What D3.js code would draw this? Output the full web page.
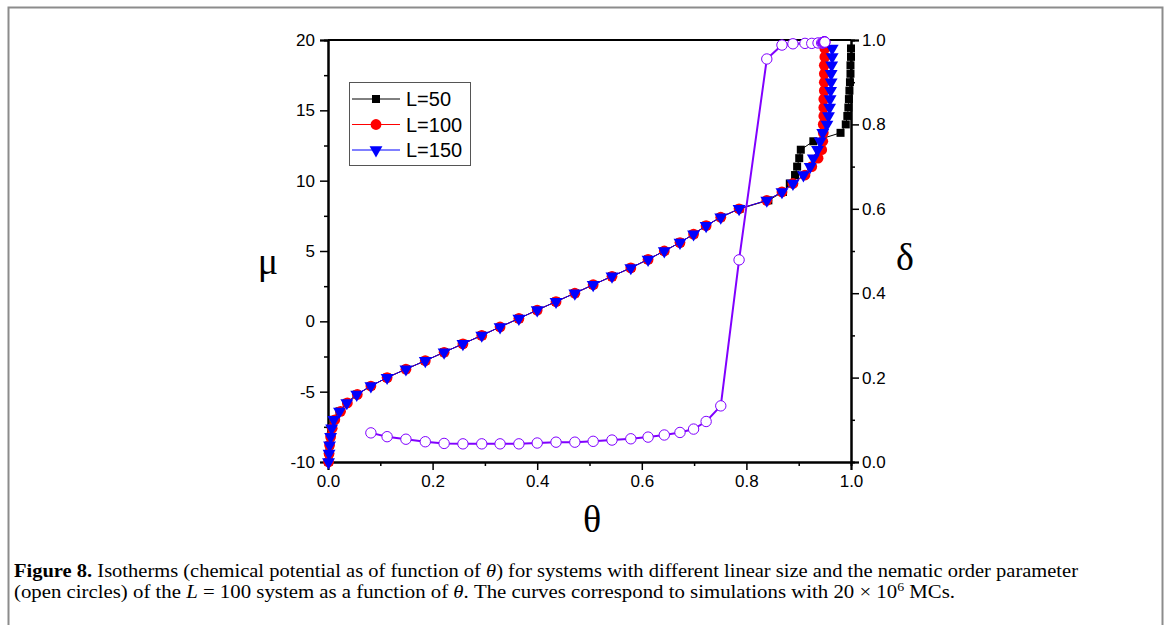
<!DOCTYPE html>
<html>
<head>
<meta charset="utf-8">
<script src="https://cdn.jsdelivr.net/npm/d3@7"></script>
<style>
  body { margin: 0; background: #fff; }
  svg { display: block; }
</style>
</head>
<body>
<svg id="chart" width="1171" height="625"></svg>
<script>
// chemical potential grid (shared by all series)
const muValues = [-10, -9.4, -8.8, -8.2, -7.6, -7.0, -6.4, -5.8, -5.2, -4.6,
  -4.0, -3.4, -2.8, -2.2, -1.6, -1.0, -0.4, 0.2, 0.8, 1.4,
  2.0, 2.6, 3.2, 3.8, 4.4, 5.0, 5.6, 6.2, 6.8, 7.4,
  8.0, 8.6, 9.2, 9.8, 10.4, 11.0, 11.6, 12.2, 12.8, 13.4,
  14.0, 14.6, 15.2, 15.8, 16.4, 17.0, 17.6, 18.2, 18.8, 19.4];

// coverage theta for each system size
const thetaL50 = [0.001, 0.002, 0.003, 0.005, 0.007, 0.011, 0.022, 0.036, 0.055, 0.082,
  0.113, 0.149, 0.186, 0.222, 0.258, 0.294, 0.329, 0.365, 0.400, 0.436,
  0.472, 0.507, 0.543, 0.579, 0.612, 0.643, 0.673, 0.699, 0.723, 0.751,
  0.787, 0.842, 0.870, 0.883, 0.893, 0.897, 0.901, 0.904, 0.928, 0.980,
  0.990, 0.993, 0.995, 0.996, 0.997, 0.998, 0.999, 0.999, 1.000, 1.000];

const thetaL100 = [0.001, 0.002, 0.003, 0.005, 0.008, 0.013, 0.024, 0.037, 0.056, 0.082,
  0.113, 0.149, 0.186, 0.222, 0.258, 0.294, 0.329, 0.365, 0.400, 0.436,
  0.472, 0.507, 0.543, 0.579, 0.612, 0.643, 0.673, 0.699, 0.723, 0.751,
  0.786, 0.839, 0.868, 0.889, 0.912, 0.925, 0.937, 0.944, 0.946, 0.947,
  0.947, 0.948, 0.948, 0.948, 0.949, 0.949, 0.949, 0.949, 0.950, 0.950];

const thetaL150 = [0.001, 0.002, 0.003, 0.005, 0.007, 0.011, 0.022, 0.036, 0.055, 0.082,
  0.113, 0.149, 0.186, 0.222, 0.258, 0.294, 0.329, 0.365, 0.400, 0.436,
  0.472, 0.507, 0.543, 0.579, 0.612, 0.643, 0.673, 0.699, 0.723, 0.751,
  0.786, 0.839, 0.868, 0.889, 0.909, 0.922, 0.928, 0.936, 0.941, 0.946,
  0.954, 0.957, 0.959, 0.960, 0.961, 0.962, 0.962, 0.963, 0.964, 0.964];

// nematic order parameter of L=100 (null where not measured)
const deltaL100 = [null, null, null, null, null, null, null, null, null, 0.069,
  0.060, 0.054, 0.048, 0.044, 0.043, 0.043, 0.043, 0.043, 0.045, 0.047,
  0.047, 0.049, 0.052, 0.055, 0.059, 0.064, 0.070, 0.078, 0.096, 0.133,
  0.479, 0.955, 0.988, 0.991, 0.992, 0.992, 0.993, 0.993, 0.993, 0.994,
  0.994, 0.994, 0.994, 0.995, 0.995, 0.995, 0.995, 0.995, 0.995, 0.995];

const seriesNames = ["L=50", "L=100", "L=150"];
const seriesColors = ["#000000", "#ff0000", "#0000ff"];
const seriesShapes = ["square", "circle", "triangle"];
const deltaColor = "#8000ff";

const muTicks = [-10, -5, 0, 5, 10, 15, 20];
const thetaTicks = [0, 0.2, 0.4, 0.6, 0.8, 1.0];
const deltaTicks = [0, 0.2, 0.4, 0.6, 0.8, 1.0];

const svg = d3.select("#chart");
const pLeft = 328, pRight = 851, pTop = 40, pBottom = 462;

const x = d3.scaleLinear().domain([0, 1]).range([pLeft, pRight]);
const y = d3.scaleLinear().domain([-10, 20]).range([pBottom, pTop]);
const yR = d3.scaleLinear().domain([0, 1]).range([pBottom, pTop]);

// figure border
svg.append("rect")
  .attr("x", 8.5).attr("y", 7.5)
  .attr("width", 1154).attr("height", 660)
  .attr("fill", "none").attr("stroke", "#8c8c8c").attr("stroke-width", 2);

const font = "'Liberation Sans', Arial, sans-serif";
const serif = "'Liberation Serif', 'Times New Roman', serif";

function styleAxis(g) {
  g.select(".domain").attr("stroke", "#000").attr("stroke-width", 2);
  g.selectAll(".tick line").attr("stroke", "#000").attr("stroke-width", 1.5);
  g.selectAll(".tick text").attr("fill", "#000")
    .style("font-family", font).style("font-size", "17px");
}

// left axis
svg.append("g").attr("transform", `translate(${pLeft},0)`)
  .call(d3.axisLeft(y).tickValues(d3.range(-7.5, 20, 5)).tickSize(4).tickFormat(""))
  .call(styleAxis);
svg.append("g").attr("transform", `translate(${pLeft},0)`)
  .call(d3.axisLeft(y).tickValues(muTicks).tickSize(8).tickPadding(5).tickFormat(d => String(d)))
  .call(styleAxis);

// bottom axis
svg.append("g").attr("transform", `translate(0,${pBottom})`)
  .call(d3.axisBottom(x).tickValues([0.1, 0.3, 0.5, 0.7, 0.9]).tickSize(4).tickFormat(""))
  .call(styleAxis);
svg.append("g").attr("transform", `translate(0,${pBottom})`)
  .call(d3.axisBottom(x).tickValues(thetaTicks).tickSize(8).tickPadding(5).tickFormat(d => d.toFixed(1)))
  .call(styleAxis);

// right axis
svg.append("g").attr("transform", `translate(${pRight},0)`)
  .call(d3.axisRight(yR).tickValues([0.1, 0.3, 0.5, 0.7, 0.9]).tickSize(4).tickFormat(""))
  .call(styleAxis);
svg.append("g").attr("transform", `translate(${pRight},0)`)
  .call(d3.axisRight(yR).tickValues(deltaTicks).tickSize(8).tickPadding(3).tickFormat(d => d.toFixed(1)))
  .call(styleAxis);

// top frame line
svg.append("line")
  .attr("x1", pLeft).attr("x2", pRight).attr("y1", pTop).attr("y2", pTop)
  .attr("stroke", "#000").attr("stroke-width", 2);

// axis titles
svg.append("text").attr("x", 268).attr("y", 274).attr("text-anchor", "middle")
  .style("font-family", serif).style("font-size", "38px").text("μ");
svg.append("text").attr("x", 592).attr("y", 532).attr("text-anchor", "middle")
  .style("font-family", serif).style("font-size", "38px").text("θ");
svg.append("text").attr("x", 905).attr("y", 270).attr("text-anchor", "middle")
  .style("font-family", serif).style("font-size", "38px").text("δ");

// markers
const triangle = d3.symbol().type(d3.symbolTriangle).size(72);
function drawMarker(sel, shape, color) {
  if (shape === "square") {
    sel.append("rect").attr("x", -4).attr("y", -4).attr("width", 8).attr("height", 8)
      .attr("fill", color);
  } else if (shape === "circle") {
    sel.append("circle").attr("r", 5.4).attr("fill", color);
  } else {
    sel.append("path").attr("d", triangle).attr("transform", "rotate(180)")
      .attr("fill", color);
  }
}

const thetaSeries = [thetaL50, thetaL100, thetaL150];
const plot = svg.append("g");
const muLine = d3.line().x(d => x(d.theta)).y(d => y(d.mu));

thetaSeries.forEach((thetas, i) => {
  const pts = muValues.map((mu, k) => ({ mu, theta: thetas[k] }));
  const g = plot.append("g");
  g.append("path").attr("d", muLine(pts))
    .attr("fill", "none").attr("stroke", seriesColors[i]).attr("stroke-width", 1);
  g.selectAll("g.pt").data(pts).enter().append("g")
    .attr("transform", d => `translate(${x(d.theta)},${y(d.mu)})`)
    .each(function () { drawMarker(d3.select(this), seriesShapes[i], seriesColors[i]); });
});

// order parameter on the right axis
const deltaPts = deltaL100
  .map((delta, k) => ({ delta, theta: thetaL100[k] }))
  .filter(d => d.delta !== null);
const deltaLine = d3.line().x(d => x(d.theta)).y(d => yR(d.delta));
plot.append("path").attr("d", deltaLine(deltaPts))
  .attr("fill", "none").attr("stroke", deltaColor).attr("stroke-width", 2);
plot.selectAll("circle.delta").data(deltaPts).enter().append("circle")
  .attr("class", "delta")
  .attr("cx", d => x(d.theta)).attr("cy", d => yR(d.delta)).attr("r", 5.2)
  .attr("fill", "#fff").attr("stroke", deltaColor).attr("stroke-width", 1);

// legend
const legend = svg.append("g");
legend.append("rect").attr("x", 349.5).attr("y", 82.5).attr("width", 121).attr("height", 83)
  .attr("fill", "#fff").attr("stroke", "#555").attr("stroke-width", 1);
seriesNames.forEach((name, i) => {
  const ry = 99 + i * 25.5;
  legend.append("line").attr("x1", 352).attr("x2", 400).attr("y1", ry).attr("y2", ry)
    .attr("stroke", seriesColors[i]).attr("stroke-width", 1);
  drawMarker(legend.append("g").attr("transform", `translate(376,${ry})`), seriesShapes[i], seriesColors[i]);
  legend.append("text").attr("x", 406).attr("y", ry + 7)
    .style("font-family", font).style("font-size", "20px").text(name);
});

// caption
const cap1 = svg.append("text").attr("x", 14).attr("y", 577)
  .attr("textLength", 1064).attr("lengthAdjust", "spacingAndGlyphs")
  .style("font-family", serif).style("font-size", "18px");
cap1.append("tspan").style("font-weight", "bold").text("Figure 8.");
cap1.append("tspan").text(" Isotherms (chemical potential as of function of ");
cap1.append("tspan").style("font-style", "italic").text("θ");
cap1.append("tspan").text(") for systems with different linear size and the nematic order parameter");

const cap2 = svg.append("text").attr("x", 14).attr("y", 598)
  .attr("textLength", 941).attr("lengthAdjust", "spacingAndGlyphs")
  .style("font-family", serif).style("font-size", "18px");
cap2.append("tspan").text("(open circles) of the ");
cap2.append("tspan").style("font-style", "italic").text("L");
cap2.append("tspan").text(" =  100 system as a function of ");
cap2.append("tspan").style("font-style", "italic").text("θ");
cap2.append("tspan").text(". The curves correspond to simulations with 20  ×  10");
cap2.append("tspan").attr("dy", -7).style("font-size", "12px").text("6");
cap2.append("tspan").attr("dy", 7).text(" MCs.");
</script>
</body>
</html>
